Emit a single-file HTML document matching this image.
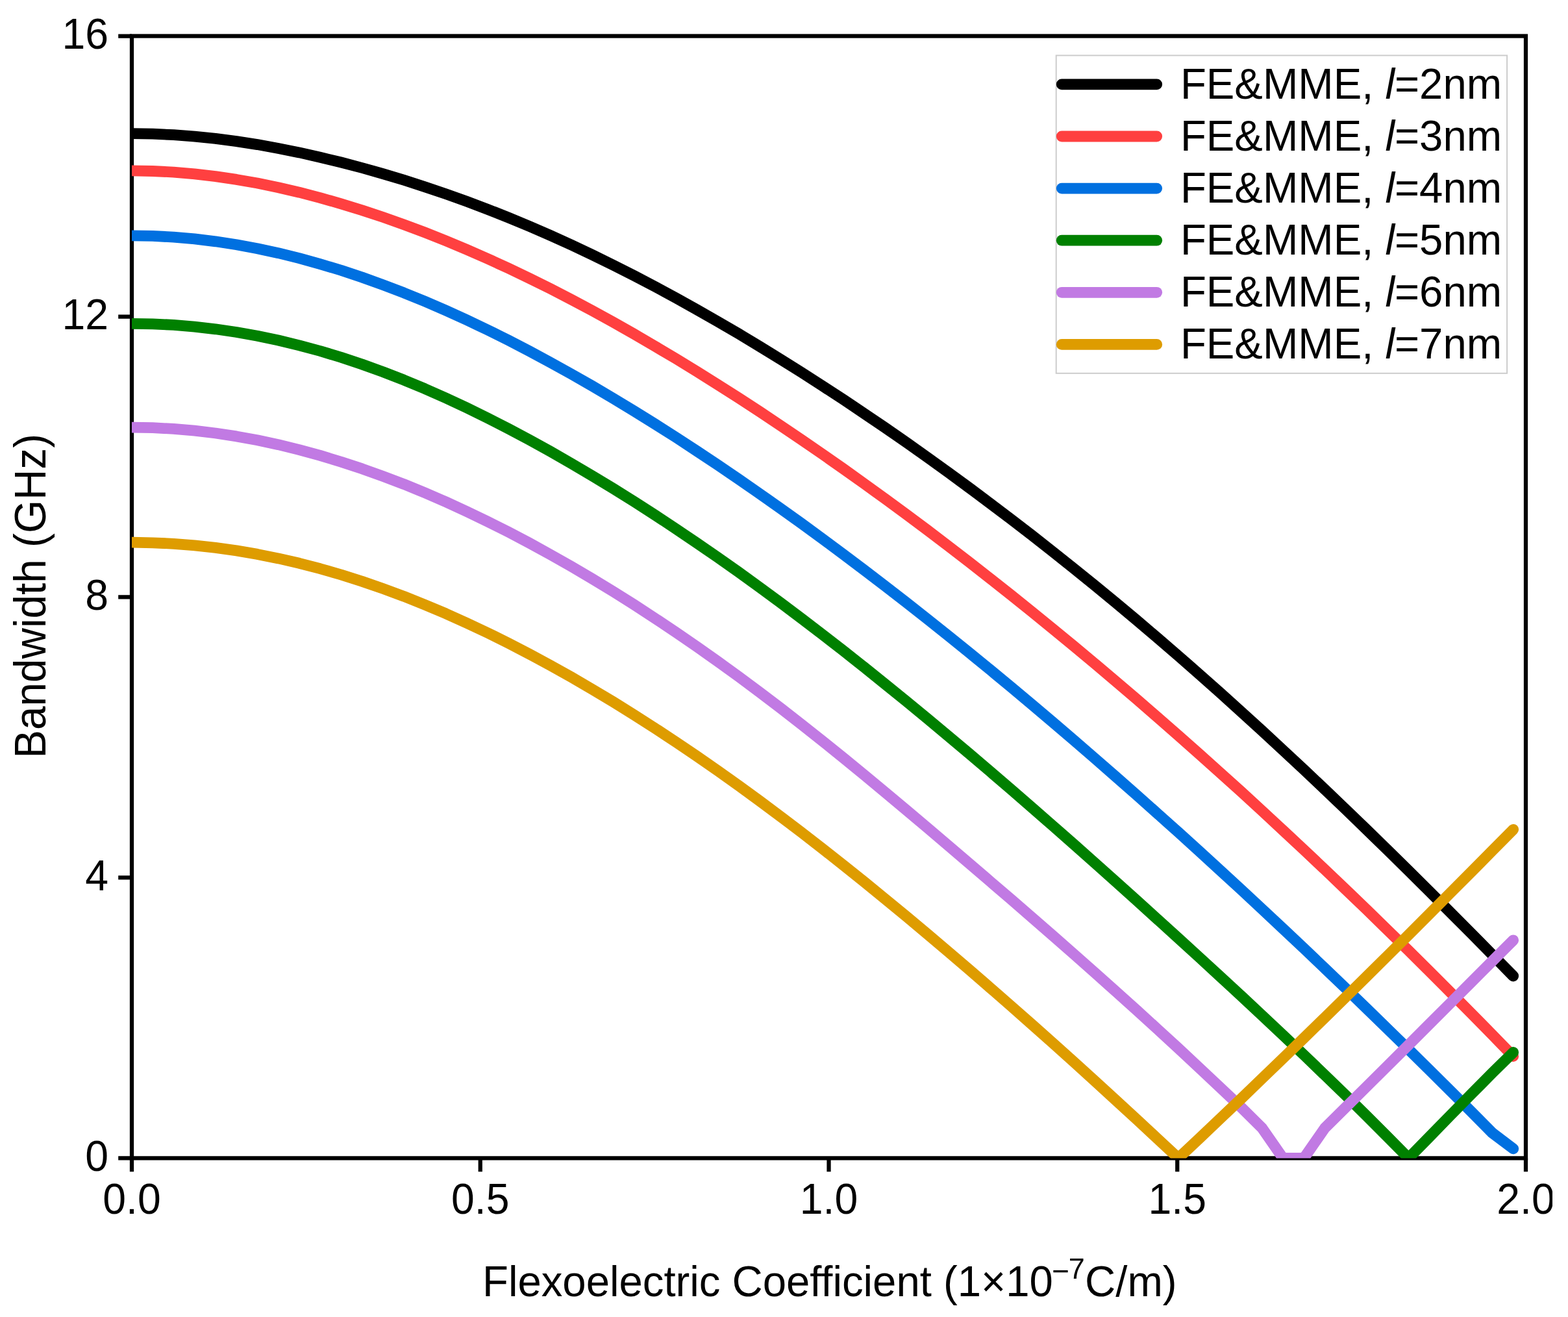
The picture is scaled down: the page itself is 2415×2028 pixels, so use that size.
<!DOCTYPE html><html><head><meta charset="utf-8"><title>Bandwidth vs Flexoelectric Coefficient</title>
<style>html,body{margin:0;padding:0;background:#fff;overflow:hidden;width:2415px;height:2028px;}svg{display:block;}text{font-family:"Liberation Sans",sans-serif;fill:#000;}</style></head><body>
<svg width="2415" height="2028" viewBox="0 0 2415 2028">
<rect width="2415" height="2028" fill="#fff"/>
<defs><clipPath id="ax"><rect x="203.0" y="55.5" width="2147.0" height="1727.9"/></clipPath><clipPath id="fig"><rect x="0" y="0" width="2391" height="2028"/></clipPath></defs>
<rect x="203.0" y="55.5" width="2147.0" height="1727.9" fill="none" stroke="#000" stroke-width="6.25"/>
<path d="M203.00 1783.40V1804.20M739.75 1783.40V1804.20M1276.50 1783.40V1804.20M1813.25 1783.40V1804.20M2350.00 1783.40V1804.20M203.00 1783.40H182.20M203.00 1351.44H182.20M203.00 919.48H182.20M203.00 487.52H182.20M203.00 55.56H182.20" stroke="#000" stroke-width="6.25" fill="none"/>
<g clip-path="url(#ax)" fill="none" stroke-width="16.80" stroke-linecap="round" stroke-linejoin="round">
<path d="M203.0 205.7 L235.2 206.2 L267.5 207.7 L299.7 210.1 L331.9 213.4 L364.2 217.6 L396.4 222.6 L428.7 228.4 L460.9 234.9 L493.1 242.2 L525.4 250.0 L557.6 258.5 L589.8 267.6 L622.1 277.3 L654.3 287.7 L686.6 298.6 L718.8 310.2 L751.0 322.3 L783.3 335.1 L815.5 348.5 L847.7 362.5 L880.0 377.2 L912.2 392.4 L944.5 408.2 L976.7 424.5 L1008.9 441.4 L1041.2 458.8 L1073.4 476.8 L1105.6 495.2 L1137.9 514.1 L1170.1 533.5 L1202.4 553.3 L1234.6 573.5 L1266.8 594.2 L1299.1 615.3 L1331.3 636.9 L1363.5 658.8 L1395.8 681.2 L1428.0 704.0 L1460.3 727.3 L1492.5 750.9 L1524.7 774.9 L1557.0 799.4 L1589.2 824.2 L1621.4 849.5 L1653.7 875.2 L1685.9 901.3 L1718.1 927.8 L1750.4 954.8 L1782.6 982.2 L1814.9 1010.0 L1847.1 1038.2 L1879.3 1066.8 L1911.6 1095.9 L1943.8 1125.3 L1976.0 1155.1 L2008.3 1185.2 L2040.5 1215.7 L2072.8 1246.5 L2105.0 1277.6 L2137.2 1309.1 L2169.5 1340.8 L2201.7 1372.7 L2233.9 1405.0 L2266.2 1437.4 L2298.4 1470.1 L2330.7 1503.0" stroke="#000000"/>
<path d="M203.0 262.9 L235.2 263.5 L267.5 265.1 L299.7 267.9 L331.9 271.6 L364.2 276.4 L396.4 282.1 L428.7 288.7 L460.9 296.2 L493.1 304.6 L525.4 313.8 L557.6 323.7 L589.8 334.4 L622.1 345.8 L654.3 357.9 L686.6 370.7 L718.8 384.2 L751.0 398.4 L783.3 413.2 L815.5 428.6 L847.7 444.6 L880.0 461.3 L912.2 478.4 L944.5 496.2 L976.7 514.4 L1008.9 533.2 L1041.2 552.4 L1073.4 572.1 L1105.6 592.3 L1137.9 612.9 L1170.1 633.9 L1202.4 655.4 L1234.6 677.2 L1266.8 699.4 L1299.1 722.0 L1331.3 745.0 L1363.5 768.3 L1395.8 792.0 L1428.0 816.1 L1460.3 840.6 L1492.5 865.4 L1524.7 890.6 L1557.0 916.1 L1589.2 942.0 L1621.4 968.2 L1653.7 994.7 L1685.9 1021.6 L1718.1 1048.9 L1750.4 1076.4 L1782.6 1104.3 L1814.9 1132.6 L1847.1 1161.1 L1879.3 1190.0 L1911.6 1219.1 L1943.8 1248.6 L1976.0 1278.5 L2008.3 1308.6 L2040.5 1339.0 L2072.8 1369.8 L2105.0 1400.8 L2137.2 1432.2 L2169.5 1463.8 L2201.7 1495.8 L2233.9 1528.0 L2266.2 1560.6 L2298.4 1593.4 L2330.7 1626.6" stroke="#FF4040"/>
<path d="M203.0 362.8 L235.2 363.4 L267.5 365.1 L299.7 367.9 L331.9 371.8 L364.2 376.8 L396.4 382.7 L428.7 389.7 L460.9 397.7 L493.1 406.6 L525.4 416.3 L557.6 427.0 L589.8 438.6 L622.1 450.9 L654.3 464.1 L686.6 478.0 L718.8 492.7 L751.0 508.0 L783.3 524.1 L815.5 540.8 L847.7 558.1 L880.0 576.0 L912.2 594.4 L944.5 613.4 L976.7 633.0 L1008.9 653.0 L1041.2 673.5 L1073.4 694.6 L1105.6 716.1 L1137.9 738.0 L1170.1 760.3 L1202.4 783.1 L1234.6 806.2 L1266.8 829.8 L1299.1 853.7 L1331.3 878.0 L1363.5 902.7 L1395.8 927.7 L1428.0 953.0 L1460.3 978.7 L1492.5 1004.8 L1524.7 1031.1 L1557.0 1057.8 L1589.2 1084.8 L1621.4 1112.0 L1653.7 1139.6 L1685.9 1167.5 L1718.1 1195.6 L1750.4 1224.0 L1782.6 1252.7 L1814.9 1281.6 L1847.1 1310.8 L1879.3 1340.2 L1911.6 1369.9 L1943.8 1399.9 L1976.0 1430.0 L2008.3 1460.4 L2040.5 1491.1 L2072.8 1522.0 L2105.0 1553.1 L2137.2 1584.4 L2169.5 1616.0 L2201.7 1647.8 L2233.9 1679.8 L2266.2 1712.0 L2298.4 1744.5 L2330.7 1768.9" stroke="#0070E0"/>
<path d="M203.0 498.3 L235.2 498.9 L267.5 500.4 L299.7 503.1 L331.9 506.8 L364.2 511.5 L396.4 517.2 L428.7 524.0 L460.9 531.8 L493.1 540.5 L525.4 550.3 L557.6 561.0 L589.8 572.6 L622.1 585.2 L654.3 598.6 L686.6 612.9 L718.8 627.9 L751.0 643.7 L783.3 660.2 L815.5 677.4 L847.7 695.2 L880.0 713.7 L912.2 732.7 L944.5 752.3 L976.7 772.4 L1008.9 793.1 L1041.2 814.4 L1073.4 836.2 L1105.6 858.4 L1137.9 881.2 L1170.1 904.5 L1202.4 928.3 L1234.6 952.5 L1266.8 977.2 L1299.1 1002.2 L1331.3 1027.7 L1363.5 1053.6 L1395.8 1079.8 L1428.0 1106.3 L1460.3 1133.2 L1492.5 1160.3 L1524.7 1187.7 L1557.0 1215.4 L1589.2 1243.4 L1621.4 1271.5 L1653.7 1299.9 L1685.9 1328.5 L1718.1 1357.3 L1750.4 1386.3 L1782.6 1415.4 L1814.9 1444.7 L1847.1 1474.1 L1879.3 1503.7 L1911.6 1533.5 L1943.8 1563.6 L1976.0 1593.9 L2008.3 1624.5 L2040.5 1655.5 L2072.8 1686.8 L2105.0 1718.6 L2137.2 1750.8 L2169.5 1783.4 L2201.7 1750.5 L2233.9 1717.5 L2266.2 1684.7 L2298.4 1652.2 L2330.7 1620.4" stroke="#008000"/>
<path d="M203.0 658.1 L235.2 658.7 L267.5 660.4 L299.7 663.2 L331.9 667.0 L364.2 671.9 L396.4 677.8 L428.7 684.7 L460.9 692.6 L493.1 701.4 L525.4 711.2 L557.6 721.8 L589.8 733.3 L622.1 745.6 L654.3 758.8 L686.6 772.8 L718.8 787.6 L751.0 803.1 L783.3 819.3 L815.5 836.3 L847.7 854.0 L880.0 872.3 L912.2 891.3 L944.5 910.9 L976.7 931.2 L1008.9 952.2 L1041.2 973.7 L1073.4 995.9 L1105.6 1018.7 L1137.9 1042.0 L1170.1 1066.0 L1202.4 1090.5 L1234.6 1115.6 L1266.8 1141.1 L1299.1 1167.1 L1331.3 1193.5 L1363.5 1220.2 L1395.8 1247.2 L1428.0 1274.4 L1460.3 1301.8 L1492.5 1329.3 L1524.7 1357.0 L1557.0 1384.7 L1589.2 1412.7 L1621.4 1440.7 L1653.7 1469.0 L1685.9 1497.5 L1718.1 1526.3 L1750.4 1555.3 L1782.6 1584.6 L1814.9 1614.3 L1847.1 1644.3 L1879.3 1674.6 L1911.6 1705.2 L1943.8 1737.0 L1976.0 1783.4 L2008.3 1783.4 L2040.5 1737.0 L2072.8 1705.0 L2105.0 1673.1 L2137.2 1641.1 L2169.5 1609.0 L2201.7 1576.8 L2233.9 1544.6 L2266.2 1512.3 L2298.4 1480.0 L2330.7 1447.8" stroke="#C17AE3"/>
<path d="M203.0 835.2 L235.2 835.8 L267.5 837.3 L299.7 839.8 L331.9 843.4 L364.2 847.9 L396.4 853.4 L428.7 859.9 L460.9 867.3 L493.1 875.7 L525.4 885.0 L557.6 895.2 L589.8 906.4 L622.1 918.3 L654.3 931.2 L686.6 944.8 L718.8 959.3 L751.0 974.5 L783.3 990.5 L815.5 1007.2 L847.7 1024.6 L880.0 1042.7 L912.2 1061.4 L944.5 1080.8 L976.7 1100.8 L1008.9 1121.5 L1041.2 1142.7 L1073.4 1164.5 L1105.6 1186.9 L1137.9 1209.9 L1170.1 1233.4 L1202.4 1257.4 L1234.6 1281.9 L1266.8 1306.9 L1299.1 1332.3 L1331.3 1358.1 L1363.5 1384.4 L1395.8 1411.0 L1428.0 1438.0 L1460.3 1465.3 L1492.5 1492.9 L1524.7 1520.8 L1557.0 1549.0 L1589.2 1577.4 L1621.4 1606.1 L1653.7 1635.1 L1685.9 1664.3 L1718.1 1693.7 L1750.4 1723.4 L1782.6 1753.3 L1814.9 1783.4 L1847.1 1753.1 L1879.3 1722.5 L1911.6 1691.8 L1943.8 1660.8 L1976.0 1629.7 L2008.3 1598.4 L2040.5 1566.9 L2072.8 1535.3 L2105.0 1503.5 L2137.2 1471.6 L2169.5 1439.5 L2201.7 1407.3 L2233.9 1374.9 L2266.2 1342.5 L2298.4 1309.9 L2330.7 1277.3" stroke="#DE9C00"/>
</g>
<g clip-path="url(#fig)">
<text transform="translate(203.00 1869.30) scale(0.99 1.035)" font-size="65" text-anchor="middle">0.0</text>
<text transform="translate(739.75 1869.30) scale(0.99 1.035)" font-size="65" text-anchor="middle">0.5</text>
<text transform="translate(1276.50 1869.30) scale(0.99 1.035)" font-size="65" text-anchor="middle">1.0</text>
<text transform="translate(1813.25 1869.30) scale(0.99 1.035)" font-size="65" text-anchor="middle">1.5</text>
<text transform="translate(2350.00 1869.30) scale(0.99 1.035)" font-size="65" text-anchor="middle">2.0</text>
</g>
<text transform="translate(167.00 1802.60) scale(0.99 1.035)" font-size="65" text-anchor="end">0</text>
<text transform="translate(167.00 1370.64) scale(0.99 1.035)" font-size="65" text-anchor="end">4</text>
<text transform="translate(167.00 938.68) scale(0.99 1.035)" font-size="65" text-anchor="end">8</text>
<text transform="translate(167.00 506.72) scale(0.99 1.035)" font-size="65" text-anchor="end">12</text>
<text transform="translate(167.00 74.76) scale(0.99 1.035)" font-size="65" text-anchor="end">16</text>
<text transform="translate(743.00 1995.80) scale(1.0 1.035)" font-size="65.3">Flexoelectric Coefficient (1×10</text>
<text transform="translate(1620.30 1972.90) scale(1.0 1.0)" font-size="46">−</text>
<text transform="translate(1645.80 1969.00) scale(1.0 1.0)" font-size="45">7</text>
<text transform="translate(1671.10 1995.80) scale(1.0 1.035)" font-size="65.3">C/m)</text>
<text transform="translate(69.90 1167.65) rotate(-90) scale(1.0 1.035)" font-size="65.64">Bandwidth (GHz)</text>
<rect x="1626.7" y="85.4" width="694.4" height="489.4" fill="#fff" stroke="#cccccc" stroke-width="2"/>
<line x1="1635.2" y1="129.9" x2="1781.7" y2="129.9" stroke="#000000" stroke-width="16.8" stroke-linecap="round"/>
<text transform="translate(1817.90 151.90) scale(1.0 1.033)" font-size="65.3">FE&amp;MME, <tspan font-style="italic">l</tspan>=2nm</text>
<line x1="1635.2" y1="210.0" x2="1781.7" y2="210.0" stroke="#FF4040" stroke-width="16.8" stroke-linecap="round"/>
<text transform="translate(1817.90 232.00) scale(1.0 1.033)" font-size="65.3">FE&amp;MME, <tspan font-style="italic">l</tspan>=3nm</text>
<line x1="1635.2" y1="290.1" x2="1781.7" y2="290.1" stroke="#0070E0" stroke-width="16.8" stroke-linecap="round"/>
<text transform="translate(1817.90 312.10) scale(1.0 1.033)" font-size="65.3">FE&amp;MME, <tspan font-style="italic">l</tspan>=4nm</text>
<line x1="1635.2" y1="370.2" x2="1781.7" y2="370.2" stroke="#008000" stroke-width="16.8" stroke-linecap="round"/>
<text transform="translate(1817.90 392.20) scale(1.0 1.033)" font-size="65.3">FE&amp;MME, <tspan font-style="italic">l</tspan>=5nm</text>
<line x1="1635.2" y1="450.3" x2="1781.7" y2="450.3" stroke="#C17AE3" stroke-width="16.8" stroke-linecap="round"/>
<text transform="translate(1817.90 472.30) scale(1.0 1.033)" font-size="65.3">FE&amp;MME, <tspan font-style="italic">l</tspan>=6nm</text>
<line x1="1635.2" y1="530.4" x2="1781.7" y2="530.4" stroke="#DE9C00" stroke-width="16.8" stroke-linecap="round"/>
<text transform="translate(1817.90 552.40) scale(1.0 1.033)" font-size="65.3">FE&amp;MME, <tspan font-style="italic">l</tspan>=7nm</text>
</svg></body></html>
